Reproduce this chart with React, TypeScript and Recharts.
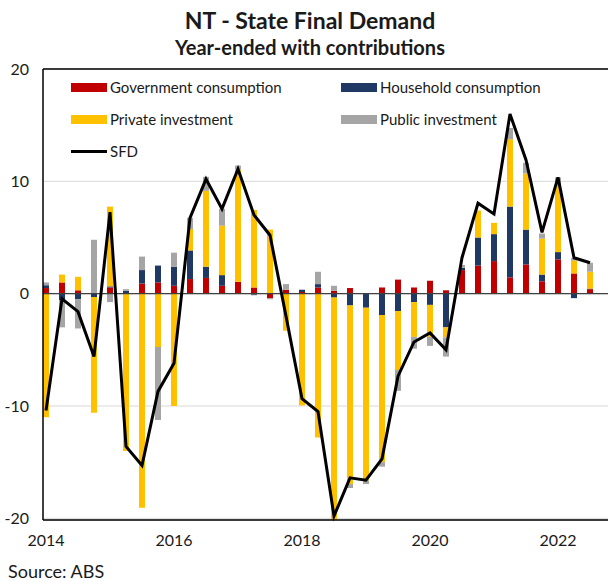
import {
  ComposedChart,
  Bar,
  Line,
  XAxis,
  YAxis,
  CartesianGrid,
  ReferenceLine,
  Legend,
} from 'recharts';

// quarterly, year-ended contributions (ppt), first point = 2014 label
const yearTicks = [0, 8, 16, 24, 32];
const yearLabels = ['2014', '2016', '2018', '2020', '2022'];

const govConsumption = [0.5, 1.0, 0.3, 0, 0.55, 0, 0.9, 1.0, 0.7, 1.3, 1.4, 0.7, 1.05, 0.55, -0.4, 0.35, 0.15, 0.55, 0.25, 0.5, 0, 0.55, 1.25, 0.55, 1.15, 0.3, 2.1, 2.5, 2.9, 1.45, 2.6, 1.1, 3.05, 1.8, 0.4];
const householdConsumption = [0.25, -0.6, -0.5, -0.3, 0.1, 0.25, 1.2, 1.5, 1.7, 2.55, 1.0, 0.95, 0, -0.1, 0, 0, 0.2, 0.3, -0.35, -1.05, -1.25, -1.9, -1.55, -0.75, -1.0, -3.0, 0.2, 2.5, 2.4, 6.3, 3.1, 0.6, 0.65, -0.4, 0.05];
const privateInvestment = [-11.0, 0.7, 1.2, -10.3, 7.1, -14.0, -19.05, -4.75, -10.0, 1.9, 6.75, 4.4, 10.0, 6.9, 5.7, -3.3, -9.95, -12.8, -19.8, -15.9, -15.4, -13.1, -5.25, -3.1, -2.85, -0.9, 0, 2.4, 1.0, 6.0, 5.0, 3.2, 6.0, 1.15, 1.5];
const publicInvestment = [0.25, -2.4, -2.6, 4.8, -0.75, 0.15, 1.2, -6.5, 1.25, 1.0, 1.25, 1.5, 0.35, -0.05, -0.1, 0.5, 0, 1.1, 0.45, -0.35, -0.3, -0.4, -1.85, -1.05, -0.8, -1.7, 0.25, 0, 0, 1.0, 0.95, 0.45, 0.65, 0.2, 0.8];
const sfd = [-10.4, -0.45, -1.6, -5.6, 7.25, -13.6, -15.3, -8.7, -6.2, 6.75, 10.2, 7.55, 11.1, 7.0, 5.2, -2.0, -9.35, -10.5, -19.8, -16.4, -16.6, -14.7, -7.35, -4.3, -3.5, -5.0, 3.2, 8.05, 7.1, 16.0, 11.9, 5.45, 10.35, 3.2, 2.75];

const data = sfd.map((v, i) => ({
  q: i,
  gov: govConsumption[i],
  hh: householdConsumption[i],
  priv: privateInvestment[i],
  pub: publicInvestment[i],
  sfd: v,
}));

const FONT = 'Lato, "Liberation Sans", sans-serif';
const TEXT = '#1a1a1a';

const legendItems = [
  { label: 'Government consumption', color: '#C00000', kind: 'bar', col: 0, row: 0 },
  { label: 'Household consumption', color: '#203864', kind: 'bar', col: 1, row: 0 },
  { label: 'Private investment', color: '#FFC000', kind: 'bar', col: 0, row: 1 },
  { label: 'Public investment', color: '#A5A5A5', kind: 'bar', col: 1, row: 1 },
  { label: 'SFD', color: '#000000', kind: 'line', col: 0, row: 2 },
];

function ChartLegend() {
  return (
    <div style={{ position: 'relative', width: 560, height: 90 }}>
      {legendItems.map((it) => (
        <div
          key={it.label}
          style={{
            position: 'absolute',
            left: it.col * 270,
            top: it.row * 32,
            height: 20,
            display: 'flex',
            alignItems: 'center',
            fontFamily: FONT,
            fontSize: 15,
            color: TEXT,
            whiteSpace: 'nowrap',
          }}
        >
          <span
            style={{
              display: 'inline-block',
              width: 36,
              height: it.kind === 'bar' ? 9 : 3,
              background: it.color,
              marginRight: 3,
            }}
          />
          {it.label}
        </div>
      ))}
    </div>
  );
}

export default function App() {
  return (
    <div style={{ position: 'absolute', left: 0, top: 0, width: 608, height: 581, overflow: 'hidden', background: '#fff' }}>
      <div style={{ position: 'absolute', left: 0, width: 620, top: 7, textAlign: 'center', fontFamily: FONT, fontWeight: 700, fontSize: 23, lineHeight: '26px', color: TEXT }}>
        NT - State Final Demand
      </div>
      <div style={{ position: 'absolute', left: 0, width: 620, top: 37, textAlign: 'center', fontFamily: FONT, fontWeight: 700, fontSize: 20, lineHeight: '20px', color: TEXT }}>
        Year-ended with contributions
      </div>
      <div style={{ position: 'absolute', left: 0, top: 0 }}>
        <ComposedChart
          width={620}
          height={581}
          data={data}
          stackOffset="sign"
          margin={{ top: 69, right: 8, bottom: 31, left: 0 }}
        >
          <CartesianGrid vertical={false} stroke="#d9d9d9" />
          <XAxis
            dataKey="q"
            type="number"
            domain={[-0.1875, 35.375]}
            allowDataOverflow
            ticks={yearTicks}
            tickFormatter={(v: number) => yearLabels[yearTicks.indexOf(v)] ?? ''}
            tickLine={false}
            tickSize={0}
            tickMargin={15}
            height={30}
            axisLine={{ stroke: '#000', strokeWidth: 1.5 }}
            tick={{ fill: TEXT, fontSize: 16, fontFamily: FONT }}
          />
          <YAxis
            type="number"
            domain={[-20, 20]}
            ticks={[-20, -10, 0, 10, 20]}
            width={43}
            tickLine={false}
            tickSize={0}
            tickMargin={14}
            axisLine={{ stroke: '#000', strokeWidth: 1.5 }}
            tick={{ fill: TEXT, fontSize: 16, fontFamily: FONT }}
          />
          <ReferenceLine y={20} stroke="#000" strokeWidth={1.5} />
          <Legend
            verticalAlign="middle"
            layout="horizontal"
            content={() => <ChartLegend />}
            wrapperStyle={{ position: 'absolute', left: 71, top: 77, width: 560 }}
          />
          <Bar dataKey="gov" stackId="c" fill="#C00000" barSize={6} isAnimationActive={false} />
          <Bar dataKey="hh" stackId="c" fill="#203864" barSize={6} isAnimationActive={false} />
          <Bar dataKey="priv" stackId="c" fill="#FFC000" barSize={6} isAnimationActive={false} />
          <Bar dataKey="pub" stackId="c" fill="#A5A5A5" barSize={6} isAnimationActive={false} />
          <ReferenceLine y={0} stroke="#404040" strokeWidth={1.2} />
          <Line
            dataKey="sfd"
            type="linear"
            stroke="#000"
            strokeWidth={3}
            dot={false}
            activeDot={false}
            isAnimationActive={false}
          />
        </ComposedChart>
      </div>
      <div style={{ position: 'absolute', left: 8, top: 561, fontFamily: FONT, fontSize: 18, lineHeight: '20px', color: TEXT }}>
        Source: ABS
      </div>
    </div>
  );
}
